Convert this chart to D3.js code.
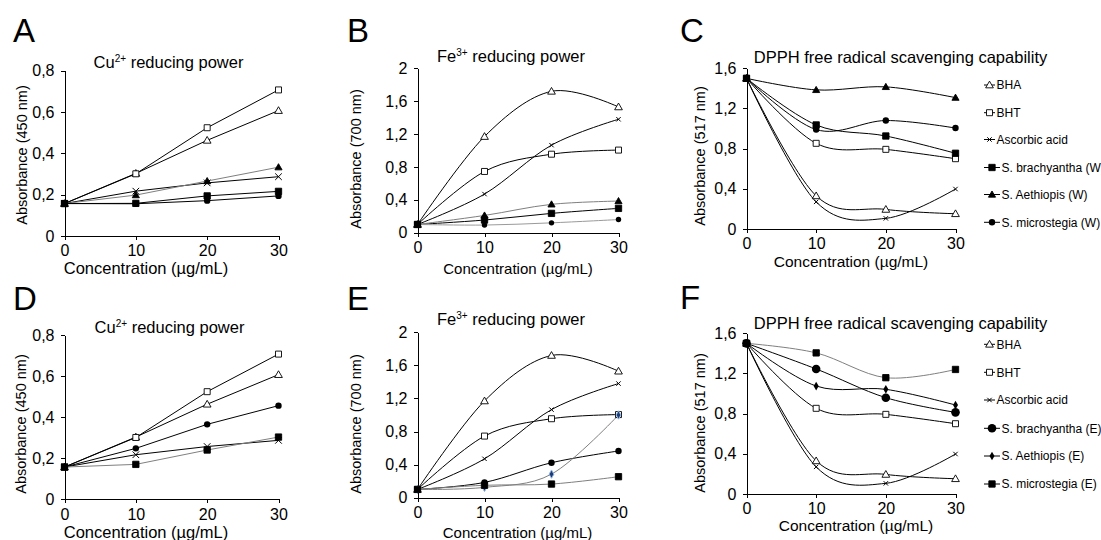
<!DOCTYPE html>
<html>
<head>
<meta charset="utf-8">
<script src="https://cdn.jsdelivr.net/npm/d3@7"></script>
<style>
    body { margin: 0; background: #fff; }
    svg text { font-family: "Liberation Sans", Arial, sans-serif; fill: #000; }
    .axis path, .axis line { stroke: #000; stroke-width: 1; shape-rendering: crispEdges; }
</style>
</head>
<body>
<svg width="1101" height="540"></svg>
<script>
var svg = d3.select('svg');

// x values shared by every panel (µg/mL)
var conc = [0, 10, 20, 30];

// Cu2+ reducing power, absorbance at 450 nm
var cuBHA = [0.157, 0.303, 0.463, 0.607];
var cuBHT = [0.157, 0.301, 0.524, 0.707];
var cuAscorbic = [0.157, 0.217, 0.257, 0.287];
var cuBrachyW = [0.157, 0.158, 0.194, 0.216];
var cuAethW = [0.157, 0.198, 0.266, 0.333];
var cuMicroW = [0.157, 0.156, 0.171, 0.194];
var cuBrachyE = [0.157, 0.248, 0.365, 0.456];
var cuMicroE = [0.157, 0.170, 0.240, 0.303];

// Fe3+ reducing power, absorbance at 700 nm
var feBHA = [0.10, 1.17, 1.72, 1.53];
var feBHT = [0.10, 0.745, 0.955, 1.005];
var feAscorbic = [0.10, 0.47, 1.065, 1.38];
var feBrachyW = [0.10, 0.154, 0.235, 0.296];
var feAethW = [0.10, 0.21, 0.345, 0.385];
var feMicroW = [0.10, 0.093, 0.12, 0.16];
var feBrachyE = [0.10, 0.185, 0.423, 0.565];
var feAethE = [0.10, 0.125, 0.285, 1.0];
var feMicroE = [0.10, 0.15, 0.165, 0.254];

// DPPH free radical scavenging, absorbance at 517 nm
var dpBHA = [1.5, 0.33, 0.195, 0.152];
var dpBHT = [1.5, 0.853, 0.793, 0.70];
var dpAscorbic = [1.5, 0.27, 0.106, 0.398];
var dpBrachyW = [1.5, 1.036, 0.926, 0.754];
var dpAethW = [1.5, 1.385, 1.415, 1.308];
var dpMicroW = [1.5, 0.99, 1.08, 1.005];
var dpBrachyE = [1.5, 1.245, 0.959, 0.813];
var dpAethE = [1.5, 1.075, 1.042, 0.886];
var dpMicroE = [1.5, 1.405, 1.158, 1.24];

var legendW = ['BHA', 'BHT', 'Ascorbic acid', 'S. brachyantha (W)', 'S. Aethiopis (W)', 'S. microstegia (W)'];
var legendE = ['BHA', 'BHT', 'Ascorbic acid', 'S. brachyantha (E)', 'S. Aethiopis (E)', 'S. microstegia (E)'];

var black = '#000', grey = '#7f7f7f', lightGrey = '#9a9a9a';

var panels = [
    {letter: 'A', lx: 13, ly: 42, x0: 64.5, x1: 278.5, y0: 236, y1: 70.7, yMax: 0.8, yStep: 0.2, smooth: false,
     title: ['Cu', '2+', ' reducing power'], tx: 168.5, ty: 68, yTitle: 'Absorbance (450 nm)', yx: 21.5, yy: 155,
     xx: 146, xy: 274, xfs: 16.5,
     series: [
        {v: cuBHA, m: 'triOpen', c: black}, {v: cuBHT, m: 'sqOpen', c: black}, {v: cuAscorbic, m: 'cross', c: black},
        {v: cuBrachyW, m: 'sqFill', c: black}, {v: cuAethW, m: 'triFill', c: grey}, {v: cuMicroW, m: 'dot', c: black}]},
    {letter: 'B', lx: 347, ly: 42, x0: 417.5, x1: 618.5, y0: 232.7, y1: 68.3, yMax: 2, yStep: 0.4, smooth: true,
     title: ['Fe', '3+', ' reducing power'], tx: 511, ty: 62, yTitle: 'Absorbance (700 nm)', yx: 356, yy: 159,
     xx: 518, xy: 274, xfs: 15,
     series: [
        {v: feBHA, m: 'triOpen', c: black}, {v: feBHT, m: 'sqOpen', c: black}, {v: feAscorbic, m: 'crossSmall', c: black},
        {v: feBrachyW, m: 'sqFill', c: black}, {v: feAethW, m: 'triFill', c: grey}, {v: feMicroW, m: 'dotSmall', c: lightGrey}]},
    {letter: 'C', lx: 680, ly: 42, x0: 746.5, x1: 955.5, y0: 229, y1: 68.3, yMax: 1.6, yStep: 0.4, smooth: true,
     title: ['DPPH free radical scavenging capability'], tx: 900.5, ty: 63, yTitle: 'Absorbance (517 nm)', yx: 700, yy: 156,
     xx: 851, xy: 267, xfs: 15.5, legend: legendW, legendY: [85, 112.7, 139.5, 167.5, 194.5, 222.3],
     series: [
        {v: dpBHA, m: 'triOpen', c: black}, {v: dpBHT, m: 'sqOpen', c: black}, {v: dpAscorbic, m: 'crossSmall', c: black},
        {v: dpBrachyW, m: 'sqFill', c: black}, {v: dpAethW, m: 'triFill', c: black}, {v: dpMicroW, m: 'dot', c: black}]},
    {letter: 'D', lx: 13, ly: 310, x0: 64.5, x1: 278.5, y0: 499.3, y1: 335, yMax: 0.8, yStep: 0.2, smooth: false,
     title: ['Cu', '2+', ' reducing power'], tx: 169.5, ty: 333, yTitle: 'Absorbance (450 nm)', yx: 21, yy: 424,
     xx: 146, xy: 538, xfs: 16.5,
     series: [
        {v: cuBHA, m: 'triOpen', c: black}, {v: cuBHT, m: 'sqOpen', c: black}, {v: cuAscorbic, m: 'cross', c: black},
        {v: cuBrachyE, m: 'dot', c: black}, {v: cuMicroE, m: 'sqFill', c: grey}]},
    {letter: 'E', lx: 347, ly: 310, x0: 417.5, x1: 618.5, y0: 497.7, y1: 332.3, yMax: 2, yStep: 0.4, smooth: true,
     title: ['Fe', '3+', ' reducing power'], tx: 511, ty: 325, yTitle: 'Absorbance (700 nm)', yx: 356, yy: 424,
     xx: 517.5, xy: 538, xfs: 15,
     series: [
        {v: feBHA, m: 'triOpen', c: black}, {v: feBHT, m: 'sqOpen', c: black}, {v: feAscorbic, m: 'crossSmall', c: black},
        {v: feBrachyE, m: 'dot', c: black}, {v: feAethE, m: 'diamondBlue', c: grey}, {v: feMicroE, m: 'sqFill', c: grey}]},
    {letter: 'F', lx: 680, ly: 309, x0: 746.5, x1: 955.5, y0: 494, y1: 333.3, yMax: 1.6, yStep: 0.4, smooth: true,
     title: ['DPPH free radical scavenging capability'], tx: 900.5, ty: 329, yTitle: 'Absorbance (517 nm)', yx: 700, yy: 423,
     xx: 856, xy: 531, xfs: 15.5, legend: legendE, legendY: [344.3, 372.3, 400, 428.3, 456, 484],
     series: [
        {v: dpBHA, m: 'triOpen', c: black}, {v: dpBHT, m: 'sqOpen', c: black}, {v: dpAscorbic, m: 'crossSmall', c: black},
        {v: dpBrachyE, m: 'dotBig', c: black}, {v: dpAethE, m: 'diamond', c: black}, {v: dpMicroE, m: 'sqFill', c: grey}]}
];

function commaFormat(v) {
    return (Math.round(v * 10) / 10).toString().replace('.', ',');
}

// draws one marker of the given kind centred on (x, y)
function drawMarker(g, kind, x, y) {
    var sym = d3.symbol();
    var t = 'translate(' + [x, y] + ')';
    if (kind === 'triOpen' || kind === 'triFill') {
        g.append('path').attr('transform', 'translate(' + [x, y + 0.6] + ')')
            .attr('d', sym.type(d3.symbolTriangle).size(kind === 'triOpen' ? 26 : 22)())
            .attr('fill', kind === 'triOpen' ? '#fff' : '#000').attr('stroke', '#000').attr('stroke-width', 0.9);
    } else if (kind === 'sqOpen' || kind === 'sqFill') {
        g.append('path').attr('transform', t)
            .attr('d', sym.type(d3.symbolSquare).size(kind === 'sqOpen' ? 36 : 40)())
            .attr('fill', kind === 'sqOpen' ? '#fff' : '#000').attr('stroke', '#000').attr('stroke-width', 0.9);
    } else if (kind === 'cross' || kind === 'crossSmall') {
        var h = kind === 'cross' ? 3.3 : 2.2;
        g.append('path').attr('transform', t)
            .attr('d', 'M' + (-h) + ',' + (-h) + 'L' + h + ',' + h + 'M' + (-h) + ',' + h + 'L' + h + ',' + (-h))
            .attr('fill', 'none').attr('stroke', '#000').attr('stroke-width', 1);
    } else if (kind === 'dot' || kind === 'dotSmall' || kind === 'dotBig') {
        var r = kind === 'dot' ? 3.2 : (kind === 'dotSmall' ? 2.7 : 4.3);
        g.append('circle').attr('cx', x).attr('cy', y).attr('r', r).attr('fill', '#000');
    } else if (kind === 'diamond') {
        g.append('path').attr('transform', t)
            .attr('d', sym.type(d3.symbolDiamond).size(22)())
            .attr('fill', '#000');
    } else if (kind === 'diamondBlue') {
        g.append('path').attr('transform', t)
            .attr('d', sym.type(d3.symbolDiamond).size(20)())
            .attr('fill', '#1f3b73').attr('stroke', '#8fb4e3').attr('stroke-width', 1);
    }
}

panels.forEach(function(p) {
    var x = d3.scaleLinear().domain([0, 30]).range([p.x0, p.x1]);
    var y = d3.scaleLinear().domain([0, p.yMax]).range([p.y0, p.y1]);
    var yTicks = d3.range(0, p.yMax + 1e-9, p.yStep);

    var g = svg.append('g').attr('class', 'panel');

    // panel letter
    g.append('text')
        .attr('x', p.lx).attr('y', p.ly)
        .style('font-size', '33px')
        .text(p.letter);

    // title, with superscript ion charge where needed
    var title = g.append('text')
        .attr('x', p.tx).attr('y', p.ty)
        .attr('text-anchor', 'middle')
        .style('font-size', '16.5px');
    title.append('tspan').text(p.title[0]);
    if (p.title.length > 1) {
        title.append('tspan').attr('dy', -6).style('font-size', '10px').text(p.title[1]);
        title.append('tspan').attr('dy', 6).text(p.title[2]);
    }

    g.append('g')
        .attr('class', 'axis')
        .attr('transform', 'translate(' + [0, p.y0] + ')')
        .call(d3.axisBottom(x).tickValues(conc).tickSize(4).tickSizeOuter(0).tickPadding(5))
        .call(function(a) { a.selectAll('text').style('font-size', '16px').attr('font-family', null); });

    g.append('g')
        .attr('class', 'axis')
        .attr('transform', 'translate(' + [p.x0, 0] + ')')
        .call(d3.axisLeft(y).tickValues(yTicks).tickFormat(commaFormat).tickSize(4).tickSizeOuter(0).tickPadding(6))
        .call(function(a) { a.selectAll('text').style('font-size', '16px').attr('font-family', null); });

    g.append('text')
        .attr('transform', 'translate(' + [p.yx, p.yy] + ') rotate(-90)')
        .attr('text-anchor', 'middle')
        .attr('dy', '0.35em')
        .style('font-size', '14.5px')
        .text(p.yTitle);

    g.append('text')
        .attr('x', p.xx).attr('y', p.xy)
        .attr('text-anchor', 'middle')
        .style('font-size', p.xfs + 'px')
        .text('Concentration (µg/mL)');

    var line = d3.line()
        .x(function(d, i) { return x(conc[i]); })
        .y(function(d) { return y(d); })
        .curve(p.smooth ? d3.curveCatmullRom.alpha(0) : d3.curveLinear);

    p.series.forEach(function(s) {
        g.append('path')
            .attr('d', line(s.v))
            .attr('fill', 'none')
            .attr('stroke', s.c)
            .attr('stroke-width', 1);
    });
    p.series.forEach(function(s) {
        s.v.forEach(function(d, i) {
            drawMarker(g, s.m, x(conc[i]), y(d));
        });
    });

    if (p.legend) {
        p.legend.forEach(function(name, i) {
            var ly = p.legendY[i];
            var s = p.series[i];
            // Excel stretches the key line a little for the bigger filled markers
            var textX = i < 3 ? 996.5 : 1001.5;
            g.append('line')
                .attr('x1', 984).attr('x2', textX - 1.5)
                .attr('y1', ly).attr('y2', ly)
                .attr('stroke', '#000').attr('stroke-width', 1);
            drawMarker(g, s.m, (984 + textX - 1.5) / 2, ly);
            g.append('text')
                .attr('x', textX).attr('y', ly)
                .attr('dy', '0.35em')
                .style('font-size', '12px')
                .text(name);
        });
    }
});
</script>
</body>
</html>
